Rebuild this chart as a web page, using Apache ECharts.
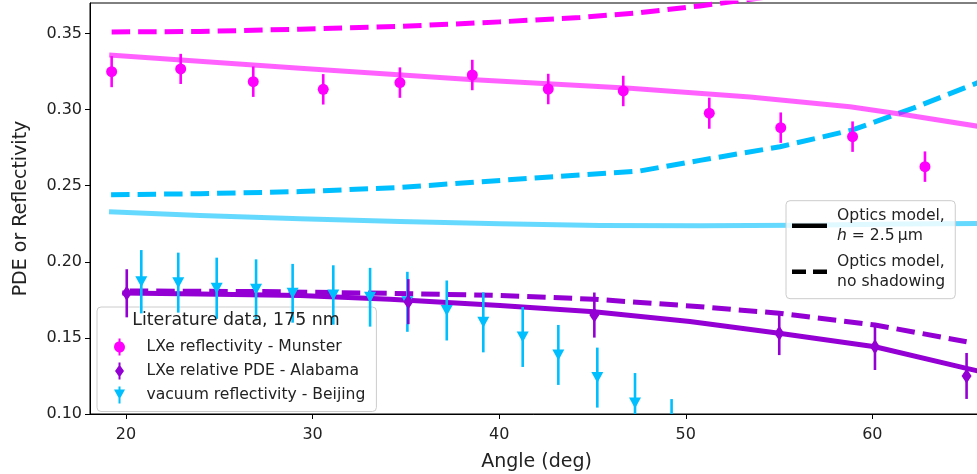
<!DOCTYPE html>
<html>
<head>
<meta charset="utf-8">
<script src="https://cdn.jsdelivr.net/npm/echarts@6/dist/echarts.min.js"></script>
<style>
html,body{margin:0;padding:0;background:#fff;}
#chart{width:977px;height:474px;}
</style>
</head>
<body>
<div id="chart"></div>
<script>
// ---------------- data ----------------
const munsterAngle = [19.23, 22.93, 26.82, 30.57, 34.68, 38.56, 42.63, 46.65, 51.26, 55.09, 58.94, 62.82];
const munsterValue = [0.3249, 0.3267, 0.3183, 0.3133, 0.3177, 0.3227, 0.3135, 0.3122, 0.2976, 0.2881, 0.2822, 0.2625];
const munsterErr   = [0.0102, 0.0099, 0.0100, 0.0100, 0.0100, 0.0100, 0.0100, 0.0100, 0.0102, 0.0100, 0.0100, 0.0100];

const alabamaAngle = [20.04, 35.13, 45.10, 55.01, 60.14, 65.05];
const alabamaValue = [0.1793, 0.1738, 0.1650, 0.1530, 0.1442, 0.1250];
const alabamaErr   = [0.0158, 0.0148, 0.0148, 0.0143, 0.0153, 0.0151];

const beijingAngle = [20.82, 22.80, 24.86, 26.97, 28.93, 31.11, 33.08, 35.08, 37.19, 39.15, 41.26, 43.17, 45.26, 47.28, 49.24];
const beijingValue = [0.1869, 0.1863, 0.1826, 0.1819, 0.1793, 0.1782, 0.1767, 0.1737, 0.1680, 0.1602, 0.1506, 0.1388, 0.1239, 0.1072, 0.0901];
const beijingErr   = [0.0208, 0.0197, 0.0201, 0.0197, 0.0193, 0.0195, 0.0193, 0.0197, 0.0197, 0.0197, 0.0197, 0.0197, 0.0197, 0.0197, 0.0197];

// optics model curves
const magentaShadowAngle = [19.1, 29.33, 38.44, 47.01, 53.44, 58.80, 61.84, 65.93];
const magentaShadow      = [0.3359, 0.3271, 0.3198, 0.3140, 0.3083, 0.3019, 0.2964, 0.2885];
const magentaNoShadowAngle = [19.23, 23.97, 29.33, 34.68, 40.04, 44.33, 47.55, 50.76, 53.98, 57.0];
const magentaNoShadow      = [0.3510, 0.3513, 0.3528, 0.3546, 0.3576, 0.3605, 0.3637, 0.3681, 0.3733, 0.3790];

const cyanShadowAngle = [19.09, 23.97, 29.33, 34.68, 40.04, 45.40, 50.76, 56.12, 61.48, 65.93];
const cyanShadow      = [0.2329, 0.2304, 0.2283, 0.2265, 0.2250, 0.2239, 0.2237, 0.2240, 0.2248, 0.2252];
const cyanNoShadowAngle = [19.2, 23.97, 29.33, 34.68, 38.44, 42.72, 47.55, 50.76, 55.05, 58.94, 62.19, 65.93];
const cyanNoShadow      = [0.2441, 0.2447, 0.2461, 0.2488, 0.2521, 0.2557, 0.2597, 0.2666, 0.2756, 0.2866, 0.3009, 0.3190];

const purpleShadowAngle = [19.8, 23.97, 29.33, 34.15, 40.04, 45.08, 50.22, 55.0, 60.14, 65.05, 65.93];
const purpleShadow      = [0.1795, 0.1788, 0.1779, 0.1754, 0.1713, 0.1672, 0.1608, 0.1530, 0.1442, 0.1300, 0.1275];
const purpleNoShadowAngle = [20.2, 26.65, 34.15, 40.04, 45.08, 50.22, 55.0, 60.14, 65.05];
const purpleNoShadow      = [0.1808, 0.1805, 0.1793, 0.1779, 0.1754, 0.1710, 0.1662, 0.1585, 0.1475];

const xTicks = [20, 30, 40, 50, 60];
const yTicks = [0.10, 0.15, 0.20, 0.25, 0.30, 0.35];

const legendTitle = 'Literature data, 175 nm';
const nameMunster = 'LXe reflectivity - Munster';
const nameAlabama = 'LXe relative PDE - Alabama';
const nameBeijing = 'vacuum reflectivity - Beijing';
const nameModelH = 'modelH';
const nameModelNS = 'modelNS';

// ---------------- helpers ----------------
const MAGENTA = '#ff00ff', PURPLE = '#9400d3', CYAN = '#00bfff';
const FONT = 'DejaVu Sans';
const zip = (a, b) => a.map((v, i) => [v, b[i]]);
const zip3 = (a, b, c) => a.map((v, i) => [v, b[i], c[i]]);
const DASH = [18.5, 8];

function errRender(color) {
  return function (params, api) {
    const x = api.value(0), y = api.value(1), e = api.value(2);
    const p1 = api.coord([x, y - e]);
    const p2 = api.coord([x, y + e]);
    const cs = params.coordSys;
    const top = Math.max(p2[1], cs.y);
    const bot = Math.min(p1[1], cs.y + cs.height);
    if (top >= bot) return null;
    return {
      type: 'line',
      shape: { x1: p1[0], y1: top, x2: p1[0], y2: bot },
      style: { stroke: color, lineWidth: 2.6 }
    };
  };
}

function modelLine(angle, vals, color, dashed, z) {
  return {
    type: 'line', data: zip(angle, vals), symbol: 'none', silent: true, z: z,
    clip: true,
    lineStyle: { color: color, width: 5, type: dashed ? DASH : 'solid', cap: 'butt', join: 'round' }
  };
}

const chart = echarts.init(document.getElementById('chart'), null, { renderer: 'canvas' });

const iconCircle = 'path://M4.5,0 H6.5 V3.09 A5.5,5.5 0 0 1 6.5,13.91 V17 H4.5 V13.91 A5.5,5.5 0 0 1 4.5,3.09 Z';
const iconDiamond = 'path://M3.5,0 H5.5 V3.44 L9,8.5 L5.5,13.56 V17 H3.5 V13.56 L0,8.5 L3.5,3.44 Z';
const iconTri = 'path://M4.5,0 H6.5 V3 H11 L6.5,11.18 V17 H4.5 V11.18 L0,3 H4.5 Z';
const iconSolid = 'path://M0,0 H35 V4.5 H0 Z';
const iconDashed = 'path://M0,0 H14 V4.5 H0 Z M21,0 H35 V4.5 H21 Z';

const option = {
  animation: false,
  backgroundColor: '#fff',
  textStyle: { fontFamily: FONT },
  grid: {
    left: 90, top: 3, right: -6, bottom: 60,
    outerBoundsMode: 'none', containLabel: false,
    show: true, borderColor: '#000', borderWidth: 1, backgroundColor: 'transparent'
  },
  xAxis: {
    type: 'value', min: 18.07, max: 65.93,
    name: 'Angle (deg)', nameLocation: 'middle', nameGap: 39,
    nameTextStyle: { fontSize: 19, color: '#222', fontFamily: FONT },
    axisLine: { show: true, lineStyle: { color: '#000', width: 1 } },
    axisTick: { show: true, length: 5, lineStyle: { color: '#000', width: 1 }, customValues: xTicks },
    axisLabel: { fontSize: 16, color: '#222', fontFamily: FONT, margin: 13, customValues: xTicks },
    splitLine: { show: false }
  },
  yAxis: {
    type: 'value', min: 0.10, max: 0.37,
    name: 'PDE or Reflectivity', nameLocation: 'middle', nameGap: 59,
    nameTextStyle: { fontSize: 19, color: '#222', fontFamily: FONT },
    axisLine: { show: true, lineStyle: { color: '#000', width: 1 } },
    axisTick: { show: true, length: 5, lineStyle: { color: '#000', width: 1 }, customValues: yTicks },
    axisLabel: { fontSize: 16, color: '#222', fontFamily: FONT, margin: 8, customValues: yTicks,
      formatter: v => v.toFixed(2) },
    splitLine: { show: false }
  },
  legend: [
    {
      orient: 'vertical', left: 97, top: 307,
      padding: [30.5, 11, 7, 17], itemGap: 5, itemWidth: 20, itemHeight: 17,
      backgroundColor: 'rgba(255,255,255,0.8)', borderColor: '#cccccc', borderWidth: 1, borderRadius: 4,
      selectedMode: false,
      textStyle: { fontSize: 15.6, color: '#222', fontFamily: FONT, lineHeight: 19, padding: [0, 0, 0, 12] },
      data: [
        { name: nameMunster, icon: iconCircle },
        { name: nameAlabama, icon: iconDiamond },
        { name: nameBeijing, icon: iconTri }
      ]
    },
    {
      orient: 'vertical', left: 786, top: 200.7,
      padding: [5, 10, 7, 6], itemGap: 6, itemWidth: 35, itemHeight: 4.5,
      backgroundColor: 'rgba(255,255,255,0.8)', borderColor: '#cccccc', borderWidth: 1, borderRadius: 4,
      selectedMode: false,
      textStyle: {
        fontSize: 15.6, color: '#222', fontFamily: FONT, lineHeight: 20, padding: [0, 0, 0, 5],
        rich: {
          i: { fontStyle: 'italic', fontSize: 15.6, fontFamily: FONT, color: '#222', lineHeight: 20 },
          n: { fontSize: 15.6, fontFamily: FONT, color: '#222', lineHeight: 20 }
        }
      },
      formatter: function (name) {
        if (name === nameModelH) return 'Optics model,\n{i|h}{n| = 2.5\u2009µm}';
        return 'Optics model,\nno shadowing';
      },
      data: [{ name: nameModelH, icon: iconSolid }, { name: nameModelNS, icon: iconDashed }]
    }
  ],
  graphic: [{
    type: 'text', z: 100, x: 236, y: 320.7,
    style: { text: legendTitle, fontSize: 17.4, fontFamily: FONT, fill: '#222', align: 'center', verticalAlign: 'middle' }
  }],
  series: [
    modelLine(cyanShadowAngle, cyanShadow, 'rgba(0,191,255,0.6)', false, 1),
    modelLine(cyanNoShadowAngle, cyanNoShadow, CYAN, true, 1),
    modelLine(magentaShadowAngle, magentaShadow, 'rgba(255,0,255,0.62)', false, 1),
    modelLine(magentaNoShadowAngle, magentaNoShadow, MAGENTA, true, 1),
    modelLine(purpleNoShadowAngle, purpleNoShadow, PURPLE, true, 1),
    modelLine(purpleShadowAngle, purpleShadow, PURPLE, false, 1),
    // proxy series used only for the model legend
    { type: 'line', name: nameModelH, data: [], symbol: 'none', color: '#000', itemStyle: { color: '#000' },
      lineStyle: { color: '#000', width: 4, type: 'solid' } },
    { type: 'line', name: nameModelNS, data: [], symbol: 'none', color: '#000', itemStyle: { color: '#000' },
      lineStyle: { color: '#000', width: 4, type: [13, 6] } },
    // Munster
    { type: 'custom', name: nameMunster, data: zip3(munsterAngle, munsterValue, munsterErr),
      renderItem: errRender(MAGENTA), encode: { x: 0, y: 1 }, z: 3, silent: true, color: MAGENTA },
    { type: 'scatter', name: nameMunster, data: zip(munsterAngle, munsterValue), symbol: 'circle',
      symbolSize: 11, itemStyle: { color: MAGENTA, opacity: 1 }, z: 3, silent: true },
    // Beijing
    { type: 'custom', name: nameBeijing, data: zip3(beijingAngle, beijingValue, beijingErr),
      renderItem: errRender(CYAN), encode: { x: 0, y: 1 }, z: 4, silent: true, color: CYAN },
    { type: 'scatter', name: nameBeijing, data: zip(beijingAngle, beijingValue), symbol: 'triangle',
      symbolRotate: 180, symbolSize: [12, 11], itemStyle: { color: CYAN, opacity: 1 }, z: 4, silent: true },
    // Alabama
    { type: 'custom', name: nameAlabama, data: zip3(alabamaAngle, alabamaValue, alabamaErr),
      renderItem: errRender(PURPLE), encode: { x: 0, y: 1 }, z: 5, silent: true, color: PURPLE },
    { type: 'scatter', name: nameAlabama, data: zip(alabamaAngle, alabamaValue), symbol: 'diamond',
      symbolSize: [10, 15], itemStyle: { color: PURPLE, opacity: 1 }, z: 5, silent: true }
  ]
};
chart.setOption(option);
</script>
</body>
</html>
